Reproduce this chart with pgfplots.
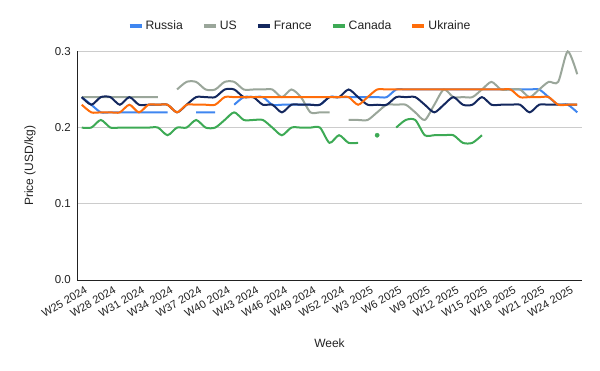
\documentclass[border=0pt]{standalone}
\usepackage{pgfplots}
\pgfplotsset{compat=1.18}
\usepackage{pgfplotstable}
\usepackage{fontspec}
\setmainfont{Liberation Sans}
\definecolor{ru}{RGB}{63,134,240}
\definecolor{us}{RGB}{154,166,154}
\definecolor{fr}{RGB}{20,40,94}
\definecolor{ca}{RGB}{61,170,85}
\definecolor{ua}{RGB}{255,109,10}
\definecolor{txt}{RGB}{34,34,34}
\pgfplotstableread{
x ru us fr ca ua
0 0.24 0.24 0.24 0.20 0.23
1 0.23 0.24 0.23 0.20 0.22
2 0.22 0.24 0.24 0.21 0.22
3 0.22 0.24 0.24 0.20 0.22
4 0.22 0.24 0.23 0.20 0.22
5 0.22 0.24 0.24 0.20 0.23
6 0.22 0.24 0.23 0.20 0.22
7 0.22 0.24 0.23 0.20 0.23
8 0.22 0.24 0.23 0.20 0.23
9 0.22 nan 0.23 0.19 0.23
10 nan 0.25 0.22 0.20 0.22
11 nan 0.26 0.23 0.20 0.23
12 0.22 0.26 0.24 0.21 0.23
13 0.22 0.25 0.24 0.20 0.23
14 0.22 0.25 0.24 0.20 0.23
15 nan 0.26 0.25 0.21 0.24
16 0.23 0.26 0.25 0.22 0.24
17 0.24 0.25 0.24 0.21 0.24
18 0.24 0.25 0.24 0.21 0.24
19 0.24 0.25 0.23 0.21 0.24
20 0.23 0.25 0.23 0.20 0.24
21 0.23 0.24 0.22 0.19 0.24
22 0.23 0.25 0.23 0.20 0.24
23 0.23 0.24 0.23 0.20 0.24
24 0.23 0.22 0.23 0.20 0.24
25 0.23 0.22 0.23 0.20 0.24
26 0.24 0.22 0.24 0.18 0.24
27 0.24 nan 0.24 0.19 0.24
28 0.24 0.21 0.25 0.18 0.24
29 0.24 0.21 0.24 0.18 0.23
30 0.24 0.21 0.23 nan 0.24
31 0.24 0.22 0.23 nan 0.25
32 0.24 0.23 0.23 nan 0.25
33 0.25 0.23 0.24 0.20 0.25
34 0.25 0.23 0.24 0.21 0.25
35 0.25 0.22 0.24 0.21 0.25
36 0.25 0.21 0.23 0.19 0.25
37 0.25 0.23 0.22 0.19 0.25
38 0.25 0.25 0.23 0.19 0.25
39 0.25 0.24 0.24 0.19 0.25
40 0.25 0.24 0.23 0.18 0.25
41 0.25 0.24 0.23 0.18 0.25
42 0.25 0.25 0.24 0.19 0.25
43 0.25 0.26 0.23 nan 0.25
44 0.25 0.25 0.23 nan 0.25
45 0.25 0.25 0.23 nan 0.25
46 0.25 0.25 0.23 nan 0.24
47 0.25 0.24 0.22 nan 0.24
48 0.25 0.25 0.23 nan 0.24
49 0.24 0.26 0.23 nan 0.24
50 0.23 0.26 0.23 nan 0.23
51 0.23 0.30 0.23 nan 0.23
52 0.22 0.27 0.23 nan 0.23
}\data
\begin{document}
\begin{tikzpicture}
\useasboundingbox (0,0) rectangle (600pt,371pt);
\begin{axis}[
  at={(77pt,91pt)}, anchor=south west,
  scale only axis, width=505pt, height=228.6pt,
  xmin=-0.5, xmax=52.5, ymin=0, ymax=0.3,
  clip=false,
  unbounded coords=jump,
  axis x line*=bottom, axis y line*=left,
  axis line style={draw=txt, line width=0.9pt, -},
  ymajorgrids, grid style={draw=black!20, line width=0.7pt},
  ytick={0,0.1,0.2,0.3},
  yticklabel style={/pgf/number format/fixed, /pgf/number format/fixed zerofill, /pgf/number format/precision=1, font=\fontsize{11.5}{12}\selectfont, text=txt, inner sep=0pt, xshift=-6pt},
  /pgf/number format/assume math mode=true,
  xtick={0,3,...,51},
  xticklabels={W25 2024,W28 2024,W31 2024,W34 2024,W37 2024,W40 2024,W43 2024,W46 2024,W49 2024,W52 2024,W3 2025,W6 2025,W9 2025,W12 2025,W15 2025,W18 2025,W21 2025,W24 2025},
  xticklabel style={font=\fontsize{11}{12}\selectfont, text=txt, inner sep=0pt, xshift=4.5pt, yshift=-9pt, rotate=30, anchor=east},
  tick style={draw=none},
  xlabel={Week}, ylabel={Price (USD/kg)},
  xlabel style={at={(axis description cs:0.5,-0.2756)}, anchor=center, font=\fontsize{12}{14}\selectfont, text=txt},
  ylabel style={at={(axis description cs:-0.0931,0.5)}, anchor=center, font=\fontsize{12}{14}\selectfont, text=txt},
  legend columns=5,
  legend style={draw=none, fill=none, at={(axis description cs:0.4416,1.1124)}, anchor=center, font=\fontsize{12.2}{14}\selectfont, text=txt, /tikz/every even column/.append style={column sep=17pt}},
  legend image code/.code={\draw[#1, line width=4pt] (0pt,0pt) -- (12pt,0pt);},
  ln/.style={line width=2pt, smooth, tension=0.45, mark=none},
]
\addplot[ln, color=ru] table[x=x,y=ru] {\data};
\addlegendentry{Russia}
\addplot[ln, color=us] table[x=x,y=us] {\data};
\addlegendentry{US}
\addplot[ln, color=fr] table[x=x,y=fr] {\data};
\addlegendentry{France}
\addplot[ln, color=ca] table[x=x,y=ca] {\data};
\addlegendentry{Canada}
\addplot[ln, color=ua] table[x=x,y=ua] {\data};
\addlegendentry{Ukraine}
\addplot[forget plot, only marks, mark=*, mark size=2.2pt, color=ca, mark options={solid, line width=0.2pt, fill=ca, draw=ca}] coordinates {(31,0.19)};
\end{axis}
\end{tikzpicture}
\end{document}
